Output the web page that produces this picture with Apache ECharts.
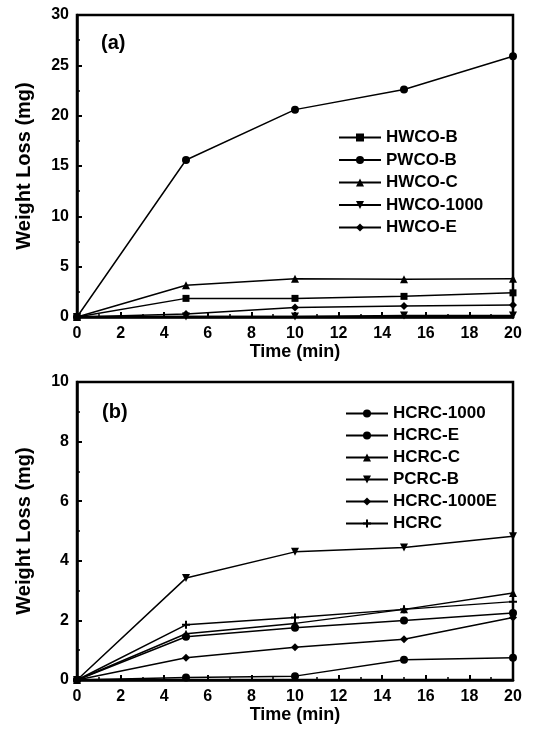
<!DOCTYPE html>
<html><head><meta charset="utf-8">
<script src="https://cdn.jsdelivr.net/npm/echarts@6/dist/echarts.min.js"></script>
<style>html,body{margin:0;padding:0;background:#fff}#c{width:536px;height:735px}</style>
</head><body><div id="c"></div>
<script>
// ---- data ----
const timeA = [0, 5, 10, 15, 20];
const namesA = ['HWCO-B', 'PWCO-B', 'HWCO-C', 'HWCO-1000', 'HWCO-E'];
const hwcoB   = [0, 1.85, 1.85, 2.05, 2.4];
const pwcoB   = [0, 15.6, 20.6, 22.6, 25.9];
const hwcoC   = [0, 3.15, 3.8, 3.75, 3.8];
const hwco1000= [0, 0.05, 0.05, 0.15, 0.15];
const hwcoE   = [0, 0.3, 0.95, 1.1, 1.2];

const timeB = [0, 5, 10, 15, 20];
const namesB = ['HCRC-1000', 'HCRC-E', 'HCRC-C', 'PCRC-B', 'HCRC-1000E', 'HCRC'];
const hcrc1000  = [0, 0.08, 0.13, 0.68, 0.75];
const hcrcE     = [0, 1.45, 1.75, 2.0, 2.25];
const hcrcC     = [0, 1.55, 1.9, 2.37, 2.92];
const pcrcB     = [0, 3.42, 4.3, 4.45, 4.82];
const hcrc1000E = [0, 0.75, 1.1, 1.37, 2.1];
const hcrc      = [0, 1.85, 2.1, 2.37, 2.63];

const yTicksA = [0, 30, 5];
const yTicksB = [0, 10, 2];
const xTicks  = [0, 20, 2];

// ---- chart ----
const FONT = '"Liberation Sans", Arial, sans-serif';
const plus = 'path://M3,0h2v3h3v2h-3v3h-2v-3h-3v-2h3z';
const symbolsA = ['rect', 'circle', 'triangle', 'triangle', 'diamond'];
const rotA = [0, 0, 0, 180, 0];
const dataA = [hwcoB, pwcoB, hwcoC, hwco1000, hwcoE];
const symbolsB = ['circle', 'circle', 'triangle', 'triangle', 'diamond', plus];
const rotB = [0, 0, 0, 180, 0, 0];
const dataB = [hcrc1000, hcrcE, hcrcC, pcrcB, hcrc1000E, hcrc];

function mkSeries(names, data, syms, rots, t, idx) {
  return names.map((n, i) => ({
    name: n, type: 'line', xAxisIndex: idx, yAxisIndex: idx,
    data: t.map((x, j) => [x, data[i][j]]),
    symbol: syms[i], symbolRotate: rots[i], symbolSize: syms[i] === 'rect' ? 7 : 8,
    lineStyle: { color: '#000', width: 1.5 },
    itemStyle: { color: '#000' },
    animation: false
  }));
}

function xAx(idx) {
  return {
    type: 'value', gridIndex: idx, min: xTicks[0], max: xTicks[1], interval: xTicks[2],
    name: 'Time (min)', nameLocation: 'middle', nameGap: 21,
    nameTextStyle: { fontFamily: FONT, fontWeight: 'bold', fontSize: 18, color: '#000' },
    axisLine: { lineStyle: { color: '#000', width: 2.5 } },
    axisTick: { inside: true, length: 5, lineStyle: { color: '#000', width: 2 } },
    minorTick: { show: true, splitNumber: 2, length: 3, lineStyle: { color: '#000', width: 1.5 } },
    axisLabel: { fontFamily: FONT, fontWeight: 'bold', fontSize: 16, color: '#000', margin: 9 },
    splitLine: { show: false }
  };
}
function yAx(idx, t) {
  return {
    type: 'value', gridIndex: idx, min: t[0], max: t[1], interval: t[2],
    name: 'Weight Loss (mg)', nameLocation: 'middle', nameGap: 43, nameRotate: 90,
    nameTextStyle: { fontFamily: FONT, fontWeight: 'bold', fontSize: 20, color: '#000' },
    axisLine: { lineStyle: { color: '#000', width: 2.5 } },
    axisTick: { inside: true, length: 5, lineStyle: { color: '#000', width: 2 } },
    minorTick: { show: true, splitNumber: 2, length: 3, lineStyle: { color: '#000', width: 1.5 } },
    axisLabel: { fontFamily: FONT, fontWeight: 'bold', fontSize: 16, color: '#000', margin: 8 },
    splitLine: { show: false }
  };
}
function leg(names, left, top, gap) {
  return {
    data: names, orient: 'vertical', left: left, top: top,
    itemWidth: 42, itemHeight: 10, itemGap: gap, padding: 0,
    textStyle: { fontFamily: FONT, fontWeight: 'bold', fontSize: 17, color: '#000' },
    inactiveColor: '#000', selectedMode: false
  };
}

const chart = echarts.init(document.getElementById('c'), null, { renderer: 'canvas' });
chart.setOption({
  backgroundColor: '#fff',
  animation: false,
  grid: [
    { left: 77, right: 23, top: 15, height: 302, show: true, borderColor: '#000', borderWidth: 2.5, backgroundColor: 'transparent' },
    { left: 77, right: 23, top: 382, height: 298, show: true, borderColor: '#000', borderWidth: 2.5, backgroundColor: 'transparent' }
  ],
  xAxis: [xAx(0), xAx(1)],
  yAxis: [yAx(0, yTicksA), yAx(1, yTicksB)],
  legend: [leg(namesA, 338, 129, 5.5), leg(namesB, 345, 405, 5)],
  graphic: [
    { type: 'text', left: 101, top: 33, style: { text: '(a)', font: 'bold 20px ' + FONT, fill: '#000' } },
    { type: 'text', left: 102, top: 402, style: { text: '(b)', font: 'bold 20px ' + FONT, fill: '#000' } }
  ],
  series: mkSeries(namesA, dataA, symbolsA, rotA, timeA, 0).concat(mkSeries(namesB, dataB, symbolsB, rotB, timeB, 1))
});
</script></body></html>
